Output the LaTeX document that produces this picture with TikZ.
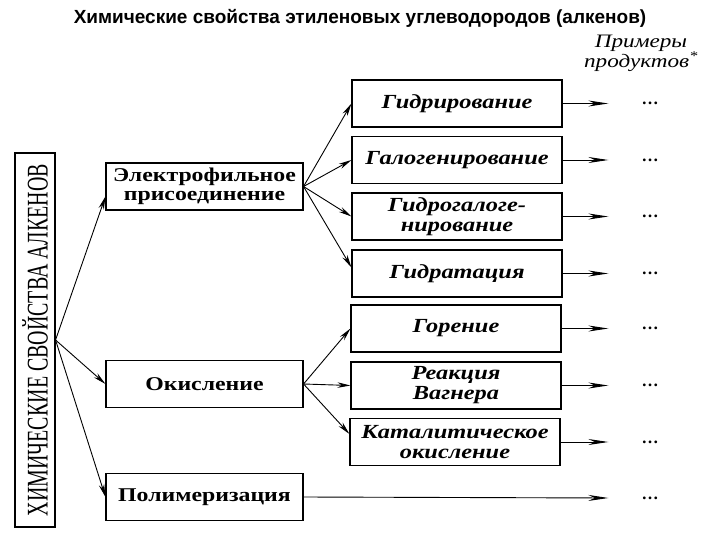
\documentclass[tikz,border=0pt]{standalone}
\usepackage{fontspec}
\setmainfont{Liberation Serif}
\newfontfamily\titlefont{Liberation Sans}
\newfontfamily\wideserif{Liberation Serif}[FakeStretch=1.22]
\newfontfamily\narrowserif{Liberation Serif}[FakeStretch=0.665]
\usetikzlibrary{arrows.meta}
\begin{document}
\begin{tikzpicture}[x=1pt,y=-1pt,
  lbox/.style={draw, line width=1.1pt, minimum width=197pt, minimum height=47pt, inner sep=0pt, align=center, font=\wideserif\bfseries\fontsize{19.5}{19.5}\selectfont},
  rbox/.style={draw, line width=1.1pt, minimum width=210pt, minimum height=47pt, inner sep=0pt, align=center, font=\wideserif\bfseries\itshape\fontsize{20}{20}\selectfont},
  arr/.style={line width=0.9pt, -{Stealth[length=13pt,width=5.5pt]}},
  rarr/.style={line width=0.9pt, -{Stealth[length=20pt,width=6pt]}},
  dotsnode/.style={font=\bfseries\fontsize{17}{17}\selectfont, inner sep=0pt}
]
\useasboundingbox (0,0) rectangle (720,540);

\node[font=\titlefont\bfseries\fontsize{19}{20}\selectfont] (title) at (360,18) {Химические свойства этиленовых углеводородов (алкенов)};
\node[font=\wideserif\itshape\fontsize{19}{18}\selectfont, align=center] (ex) at (641,53) {Примеры\\продуктов\textsuperscript{*}};

\node[draw, line width=1.1pt, minimum width=40pt, minimum height=374pt, inner sep=0pt] (L) at (35,340) {};
\node[rotate=90, font=\narrowserif\fontsize{30}{30}\selectfont, inner sep=0pt] (Lt) at (L.center) {ХИМИЧЕСКИЕ СВОЙСТВА АЛКЕНОВ};

\node[lbox] (E) at (204.5,186.5) {Электрофильное\\присоединение};
\node[lbox] (O) at (204.5,384) {Окисление};
\node[lbox] (P) at (204.5,497) {Полимеризация};

\node[rbox] (R1) at (457,103.5) {Гидрирование};
\node[rbox] (R2) at (457,160) {Галогенирование};
\node[rbox] (R3) at (457,216.5) {Гидрогалоге-\\нирование};
\node[rbox] (R4) at (457,273.5) {Гидратация};
\node[rbox] (R5) at (456,328.5) {Горение};
\node[rbox] (R6) at (456,385.5) {Реакция\\Вагнера};
\node[rbox] (R7) at (455,442) {Каталитическое\\окисление};

\foreach \i/\y in {1/103.5,2/160,3/216.5,4/273.5,5/328.5,6/385.5,7/442,8/498}
  \node[dotsnode] (D\i) at (650,\y) {\dots};

\foreach \i in {1,...,7}
  \draw[rarr] (R\i.east) -- ([xshift=-33pt]D\i.west);
\draw[rarr] (P.east) -- ([xshift=-33pt]D8.west);

\draw[arr] (L.east) -- ([yshift=-10pt]E.west);
\draw[arr] (L.east) -- (O.west);
\draw[arr] (L.east) -- (P.west);

\draw[arr] (E.east) -- (R1.west);
\draw[arr] (E.east) -- (R2.west);
\draw[arr] (E.east) -- (R3.west);
\draw[arr] (E.east) -- ([yshift=6pt]R4.west);

\draw[arr] (O.east) -- (R5.west);
\draw[arr] (O.east) -- (R6.west);
\draw[arr] (O.east) -- ([yshift=8pt]R7.west);
\end{tikzpicture}
\end{document}
